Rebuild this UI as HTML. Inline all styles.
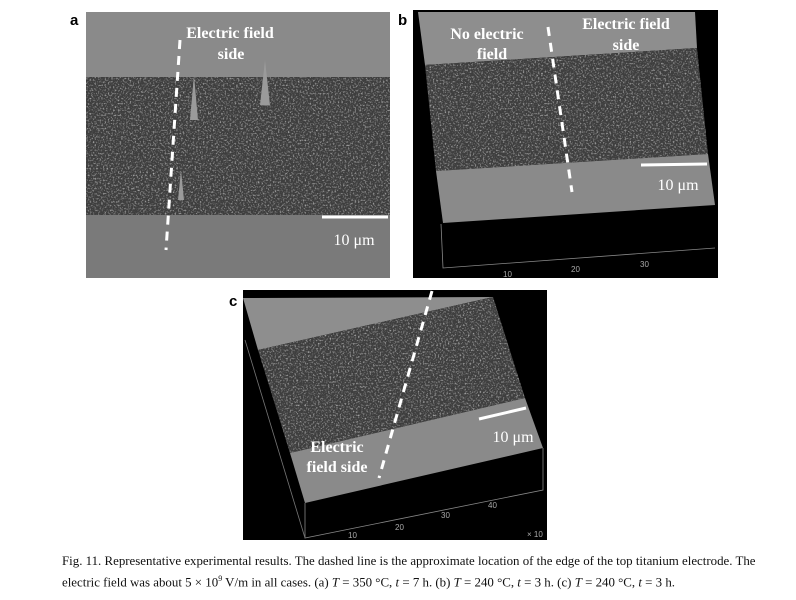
<!DOCTYPE html>
<html><head><style>
body{margin:0;background:#fff;width:796px;height:600px;overflow:hidden;font-family:"Liberation Serif",serif}
svg{position:absolute;left:0;top:0}
.cap{position:absolute;left:62px;top:553px;width:730px;font-size:12.9px;line-height:17px;color:#111}
</style></head><body>
<svg width="796" height="600" viewBox="0 0 796 600">
<defs>
<filter id="n" x="0" y="0" width="100%" height="100%">
<feTurbulence type="fractalNoise" baseFrequency="0.6" numOctaves="2" seed="3"/>
<feColorMatrix type="matrix" values="0 0 0 0 0.62  0 0 0 0 0.62  0 0 0 0 0.62  0 0 0 -2.2 1.1"/>
<feComposite in2="SourceGraphic" operator="in"/>
</filter>
</defs>
<g font-family="Liberation Sans, sans-serif" font-weight="bold" font-size="15">
<text x="70" y="25">a</text><text x="398" y="25">b</text><text x="229" y="306">c</text></g>

<!-- panel a -->
<rect x="86" y="12" width="304" height="266" fill="#7a7a7a"/>
<rect x="86" y="12" width="304" height="65" fill="#8a8a8a"/>
<rect x="86" y="77" width="304" height="138" fill="#3e3e3e"/>
<rect x="86" y="77" width="304" height="138" fill="#3e3e3e" filter="url(#n)"/>
<path d="M190 120 l4 -45 l4 45z M260 105 l5 -45 l5 45z M178 200 l3 -30 l3 30z" fill="#9a9a9a"/>
<line x1="180" y1="40" x2="166" y2="250" stroke="#fff" stroke-width="3" stroke-dasharray="9,7"/>
<line x1="322" y1="217" x2="388" y2="217" stroke="#fff" stroke-width="3"/>
<g font-family="Liberation Serif, serif" font-weight="bold" fill="#fff" font-size="16" text-anchor="middle">
<text x="230" y="38">Electric field</text><text x="231" y="59">side</text></g>
<text x="354" y="245" font-family="Liberation Serif, serif" fill="#fff" font-size="16" text-anchor="middle">10 μm</text>

<!-- panel b -->
<rect x="413" y="10" width="305" height="268" fill="#000"/>
<polygon points="418,12 695,12 697,48 425,65" fill="#8e8e8e"/>
<polygon points="425,65 697,48 708,154 436,171" fill="#3e3e3e"/>
<polygon points="425,65 697,48 708,154 436,171" fill="#3e3e3e" filter="url(#n)"/>
<polygon points="436,171 708,154 715,205 443,223" fill="#8a8a8a"/>
<path d="M441 224 L443 268 L715 248" fill="none" stroke="#888" stroke-width="0.8"/>
<g font-family="Liberation Sans, sans-serif" font-size="8" fill="#aaa"><text x="503" y="277">10</text><text x="571" y="272">20</text><text x="640" y="267">30</text></g>
<line x1="548" y1="27" x2="572" y2="192" stroke="#fff" stroke-width="3" stroke-dasharray="9,7"/>
<line x1="641" y1="165" x2="707" y2="164" stroke="#fff" stroke-width="3"/>
<g font-family="Liberation Serif, serif" font-weight="bold" fill="#fff" font-size="16" text-anchor="middle">
<text x="487" y="39">No electric</text><text x="492" y="59">field</text>
<text x="626" y="29">Electric field</text><text x="626" y="50">side</text></g>
<text x="678" y="190" font-family="Liberation Serif, serif" fill="#fff" font-size="16" text-anchor="middle">10 μm</text>

<!-- panel c -->
<rect x="243" y="290" width="304" height="250" fill="#000"/>
<polygon points="243,298 493,297 493,297 258,350" fill="#8e8e8e"/>
<polygon points="258,350 493,297 525,398 290,453" fill="#3e3e3e"/>
<polygon points="258,350 493,297 525,398 290,453" fill="#3e3e3e" filter="url(#n)"/>
<polygon points="290,453 525,398 543,448 305,503" fill="#8a8a8a"/>
<path d="M305 503 L305 538 L543 490 L543 448" fill="none" stroke="#888" stroke-width="0.8"/>
<path d="M245 340 L305 538" stroke="#777" stroke-width="0.8"/>
<g font-family="Liberation Sans, sans-serif" font-size="8" fill="#aaa"><text x="348" y="538">10</text><text x="395" y="530">20</text><text x="441" y="518">30</text><text x="488" y="508">40</text><text x="527" y="537">× 10</text></g>
<line x1="432" y1="291" x2="379" y2="478" stroke="#fff" stroke-width="3" stroke-dasharray="9,7"/>
<line x1="479" y1="419" x2="526" y2="408" stroke="#fff" stroke-width="3"/>
<g font-family="Liberation Serif, serif" font-weight="bold" fill="#fff" font-size="16" text-anchor="middle">
<text x="337" y="452">Electric</text><text x="337" y="472">field side</text></g>
<text x="513" y="442" font-family="Liberation Serif, serif" fill="#fff" font-size="16" text-anchor="middle">10 μm</text>
</svg>
<div class="cap">Fig. 11. Representative experimental results. The dashed line is the approximate location of the edge of the top titanium electrode. The electric field was about 5 × 10<sup style="font-size:8px">9</sup> V/m in all cases. (a) <i>T</i> = 350 °C, <i>t</i> = 7 h. (b) <i>T</i> = 240 °C, <i>t</i> = 3 h. (c) <i>T</i> = 240 °C, <i>t</i> = 3 h.</div>
</body></html>
